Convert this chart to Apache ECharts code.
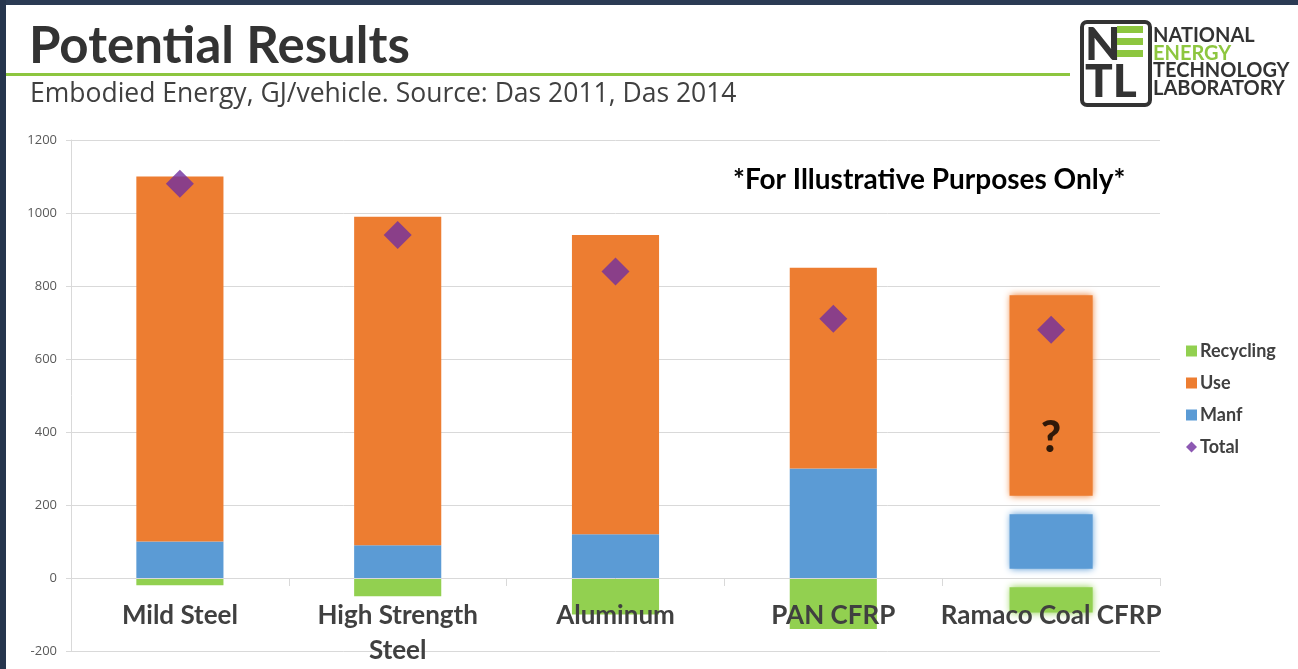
<!DOCTYPE html>
<html>
<head>
<meta charset="utf-8">
<title>Potential Results</title>
<script src="https://cdn.jsdelivr.net/npm/echarts@6/dist/echarts.min.js"></script>
<style>
  html, body { margin: 0; padding: 0; background: #ffffff; }
  #chart { width: 1298px; height: 669px; }
</style>
</head>
<body>
<div id="chart"></div>
<script>
// Embodied energy per vehicle (GJ/vehicle), by body material
const categories = ['Mild Steel', 'High Strength\nSteel', 'Aluminum', 'PAN CFRP', 'Ramaco Coal CFRP'];
const manf      = [100, 90, 120, 300, '-'];
const use       = [1000, 900, 820, 550, '-'];
const recycling = [-20, -50, -100, -140, '-'];
const total     = [1080, 940, 840, 710, 680];

// Ramaco Coal CFRP is only a rough estimate: segments given as [from, to]
const ramacoIndex     = 4;
const ramacoManf      = [20, 180];
const ramacoUse       = [220, 780];
const ramacoRecycling = [-20, -100];
const ramacoUnknownAt = 385;   // where the "?" sits on the estimate

const yTicks = { min: -200, max: 1200, step: 200 };

const COLORS = { Manf: '#5b9bd5', Use: '#ed7d31', Recycling: '#92d050', Total: '#7030a0' };
const GREEN_RULE = '#8dc63f';
const INK = '#404040';

// plot box (px)
const PLOT = { left: 71, right: 138, top: 140, bottom: 18 };
const PLOT_HEIGHT = 669 - PLOT.top - PLOT.bottom;
// category labels hang just below the zero line rather than the plot's lower edge
const zeroFromBottom = PLOT_HEIGHT * (0 - yTicks.min) / (yTicks.max - yTicks.min);
const LABEL_GAP = 20;

const segmentKinds = ['Manf', 'Use', 'Recycling'];
const ramacoSegments = [
  [ramacoIndex, ramacoManf[0], ramacoManf[1], 0],
  [ramacoIndex, ramacoUse[0], ramacoUse[1], 1],
  [ramacoIndex, ramacoRecycling[0], ramacoRecycling[1], 2]
];

// Soft-edged range bar for the estimated material
function renderEstimate(params, api) {
  const cat = api.value(0);
  const a = api.coord([cat, api.value(1)]);
  const b = api.coord([cat, api.value(2)]);
  const w = api.size([1, 0])[0] * 0.4;
  const color = COLORS[segmentKinds[api.value(3)]];
  const inset = 2;
  return {
    type: 'rect',
    shape: {
      x: a[0] - w / 2 + inset,
      y: Math.min(a[1], b[1]) + inset,
      width: w - inset * 2,
      height: Math.abs(a[1] - b[1]) - inset * 2
    },
    style: { fill: color, shadowBlur: 7, shadowColor: color }
  };
}

function logoWord(text, y, color) {
  return {
    type: 'text', x: 1153, y: y, z: 10,
    style: { text: text, fontFamily: 'Lato', fontWeight: 'bold', fontSize: 20, fill: color, verticalAlign: 'middle' }
  };
}

const chart = echarts.init(document.getElementById('chart'), null, { renderer: 'canvas' });

const option = {
  animation: false,
  backgroundColor: '#ffffff',
  grid: { left: PLOT.left, right: PLOT.right, top: PLOT.top, bottom: PLOT.bottom, containLabel: false, outerBoundsMode: 'none' },
  legend: {
    orient: 'vertical',
    left: 1181,
    top: 337,
    itemWidth: 11,
    itemHeight: 11,
    itemGap: 14,
    data: [
      { name: 'Recycling', icon: 'rect' },
      { name: 'Use', icon: 'rect' },
      { name: 'Manf', icon: 'rect' },
      { name: 'Total', icon: 'diamond' }
    ],
    textStyle: { fontFamily: 'Lato', fontWeight: 'bold', fontSize: 18, color: INK, lineHeight: 18, padding: [0, 0, 0, -2] }
  },
  xAxis: {
    type: 'category',
    data: categories,
    z: 3,
    axisLine: { onZero: true, lineStyle: { color: '#d9d9d9', width: 1 } },
    axisTick: { show: true, length: 8, lineStyle: { color: '#d9d9d9' } },
    axisLabel: {
      fontFamily: 'Lato', fontWeight: 'bold', fontSize: 26, color: INK,
      margin: LABEL_GAP - zeroFromBottom, lineHeight: 35, interval: 0
    },
    splitLine: { show: false }
  },
  yAxis: {
    type: 'value',
    min: yTicks.min,
    max: yTicks.max,
    interval: yTicks.step,
    axisLine: { show: true, lineStyle: { color: '#d9d9d9' } },
    axisTick: { show: true, length: 5, lineStyle: { color: '#d9d9d9' } },
    axisLabel: { fontFamily: 'Open Sans', fontSize: 13, color: '#595959', margin: 14, formatter: v => String(v) },
    splitLine: { lineStyle: { color: '#d9d9d9', width: 1 } }
  },
  series: [
    { name: 'Manf', type: 'bar', stack: 'energy', data: manf, barWidth: '40%', itemStyle: { color: COLORS.Manf } },
    { name: 'Use', type: 'bar', stack: 'energy', data: use, barWidth: '40%', itemStyle: { color: COLORS.Use } },
    { name: 'Recycling', type: 'bar', stack: 'energy', data: recycling, barWidth: '40%', itemStyle: { color: COLORS.Recycling } },
    {
      name: 'Ramaco estimate', type: 'custom', renderItem: renderEstimate, data: ramacoSegments,
      encode: { x: 0, y: [1, 2] }, z: 2
    },
    {
      name: 'Unknown', type: 'scatter', data: [[ramacoIndex, ramacoUnknownAt]], symbolSize: 0, z: 4,
      label: {
        show: true, position: 'inside', formatter: '?',
        fontFamily: 'Lato', fontWeight: 900, fontSize: 44, color: '#000000'
      }
    },
    {
      name: 'Total', type: 'scatter', data: total, symbol: 'diamond', symbolSize: [28, 28], z: 5,
      itemStyle: { color: COLORS.Total }
    }
  ],
  graphic: [
    // slide frame
    { type: 'rect', left: 0, top: 0, shape: { width: 1298, height: 5 }, style: { fill: '#2b3b54' }, z: 100 },
    { type: 'rect', left: 0, top: 0, shape: { width: 6, height: 669 }, style: { fill: '#26354d' }, z: 100 },
    // headline and rule
    { type: 'text', left: 29, top: 21, style: { text: 'Potential Results', fontFamily: 'Lato', fontWeight: 'bold', fontSize: 51, fill: '#333333' }, z: 10 },
    { type: 'rect', left: 6, top: 73, shape: { width: 1064, height: 3 }, style: { fill: GREEN_RULE }, z: 9 },
    { type: 'text', left: 30, top: 81, style: { text: 'Embodied Energy, GJ/vehicle. Source: Das 2011, Das 2014', fontFamily: 'Open Sans', fontSize: 26.5, fill: INK }, z: 10 },
    // note on the chart
    { type: 'text', left: 733, top: 166, style: { text: '*For Illustrative Purposes Only*', fontFamily: 'Lato', fontWeight: 'bold', fontSize: 28, fill: '#000000' }, z: 10 },
    // lab logo
    { type: 'rect', left: 1080, top: 20, shape: { x: 0, y: 0, width: 68, height: 83, r: 5 }, style: { fill: '#ffffff', stroke: '#333333', lineWidth: 4 }, z: 10 },
    { type: 'text', left: 1085, top: 22, style: { text: 'N', fontFamily: 'Lato', fontWeight: 900, fontSize: 46, fill: '#333333' }, z: 11 },
    { type: 'rect', left: 1117, top: 26, shape: { width: 26, height: 7 }, style: { fill: GREEN_RULE }, z: 11 },
    { type: 'rect', left: 1117, top: 38, shape: { width: 26, height: 7 }, style: { fill: GREEN_RULE }, z: 11 },
    { type: 'rect', left: 1117, top: 50, shape: { width: 26, height: 7 }, style: { fill: GREEN_RULE }, z: 11 },
    { type: 'text', left: 1085, top: 59, style: { text: 'TL', fontFamily: 'Lato', fontWeight: 900, fontSize: 46, fill: '#333333' }, z: 11 },
    logoWord('NATIONAL', 36, '#333333'),
    logoWord('ENERGY', 53.5, GREEN_RULE),
    logoWord('TECHNOLOGY', 71, '#333333'),
    logoWord('LABORATORY', 88.5, '#333333')
  ]
};

chart.setOption(option);
</script>
</body>
</html>
